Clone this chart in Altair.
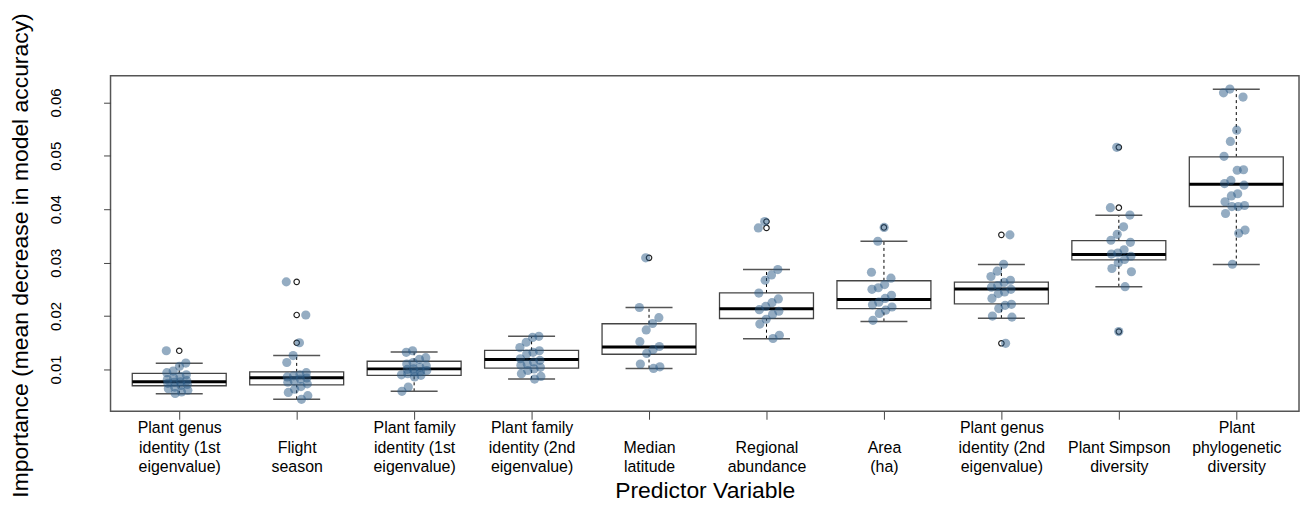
import json
import altair as alt
import pandas as pd

# ---------------- data ----------------
categories = [
    "Plant genus\nidentity (1st\neigenvalue)",
    " \nFlight\nseason",
    "Plant family\nidentity (1st\neigenvalue)",
    "Plant family\nidentity (2nd\neigenvalue)",
    " \nMedian\nlatitude",
    " \nRegional\nabundance",
    " \nArea\n(ha)",
    "Plant genus\nidentity (2nd\neigenvalue)",
    " \nPlant Simpson\ndiversity",
    "Plant\nphylogenetic\ndiversity",
]

# box statistics (whisker low, lower hinge, median, upper hinge, whisker high)
box_lo = [0.00546, 0.00442, 0.00591, 0.0082, 0.01019, 0.01577, 0.0190, 0.0196, 0.0255, 0.02965]
box_q1 = [0.00695, 0.00713, 0.00888, 0.01024, 0.01285, 0.01954, 0.02140, 0.02228, 0.03052, 0.04051]
box_med = [0.00769, 0.00844, 0.01011, 0.01186, 0.01421, 0.02135, 0.02308, 0.02507, 0.03151, 0.04466]
box_q3 = [0.00926, 0.00955, 0.01154, 0.01359, 0.01856, 0.02433, 0.02661, 0.02637, 0.03411, 0.04981]
box_hi = [0.01117, 0.0126, 0.01327, 0.0162, 0.02159, 0.02872, 0.0340, 0.02965, 0.03889, 0.06247]

# outliers drawn as open circles
out_idx = [1, 2, 2, 2, 5, 6, 6, 7, 8, 8, 9, 9, 9]
out_val = [0.0135, 0.0264, 0.0202, 0.0150, 0.0309, 0.0377, 0.0365, 0.0366,
           0.0352, 0.0149, 0.0516, 0.0403, 0.0171]

# individual importance values (jittered points)
pts_1 = [0.0135, 0.0112, 0.0106, 0.0097, 0.0094, 0.0090, 0.0087, 0.0084, 0.0081, 0.0079,
         0.0077, 0.0076, 0.0074, 0.0072, 0.0070, 0.0067, 0.0064, 0.0061, 0.0058, 0.0055]
pts_2 = [0.0264, 0.0202, 0.0150, 0.0126, 0.0113, 0.0094, 0.0090, 0.0088, 0.0086, 0.0084,
         0.0082, 0.0079, 0.0076, 0.0073, 0.0068, 0.0063, 0.0057, 0.0051, 0.0044]
pts_3 = [0.0135, 0.0132, 0.0122, 0.0119, 0.0113, 0.0110, 0.0107, 0.0104, 0.0101, 0.0100,
         0.0098, 0.0096, 0.0095, 0.0092, 0.0090, 0.0089, 0.0086, 0.0067, 0.0059]
pts_4 = [0.0162, 0.0160, 0.0151, 0.0141, 0.0135, 0.0132, 0.0129, 0.0120, 0.0117, 0.0114,
         0.0110, 0.0108, 0.0104, 0.0101, 0.0098, 0.0092, 0.0087, 0.0082]
pts_5 = [0.0309, 0.0216, 0.0197, 0.0186, 0.0174, 0.0152, 0.0143, 0.0137, 0.0130, 0.0110,
         0.0105, 0.0102]
pts_6 = [0.0377, 0.0365, 0.0287, 0.0277, 0.0267, 0.0243, 0.0232, 0.0225, 0.0218, 0.0212,
         0.0209, 0.0203, 0.0194, 0.0185, 0.0164, 0.0158]
pts_7 = [0.0366, 0.0340, 0.0282, 0.0271, 0.0259, 0.0253, 0.0250, 0.0239, 0.0233, 0.0226,
         0.0221, 0.0217, 0.0211, 0.0205, 0.0192]
pts_8 = [0.0352, 0.0297, 0.0284, 0.0274, 0.0267, 0.0263, 0.0257, 0.0254, 0.0250, 0.0245,
         0.0242, 0.0233, 0.0222, 0.0220, 0.0214, 0.0200, 0.0198, 0.0149]
pts_9 = [0.0516, 0.0403, 0.0389, 0.0367, 0.0353, 0.0342, 0.0338, 0.0324, 0.0318, 0.0316,
         0.0312, 0.0306, 0.0300, 0.0289, 0.0283, 0.0255, 0.0171]
pts_10 = [0.0625, 0.0618, 0.0610, 0.0548, 0.0527, 0.0499, 0.0474, 0.0473, 0.0454, 0.0448,
          0.0445, 0.0429, 0.0425, 0.0414, 0.0407, 0.0405, 0.0405, 0.0392, 0.0361, 0.0355,
          0.0297]

y_ticks = [0.01, 0.02, 0.03, 0.04, 0.05, 0.06]

# ---------------- tables ----------------
stats = pd.DataFrame({
    "idx": list(range(1, 11)),
    "lo": box_lo, "q1": box_q1, "med": box_med, "q3": box_q3, "hi": box_hi,
})
all_pts = [pts_1, pts_2, pts_3, pts_4, pts_5, pts_6, pts_7, pts_8, pts_9, pts_10]
rows = []
for k, vals in enumerate(all_pts):
    for v in vals:
        rows.append({"idx": k + 1, "value": v, "i": len(rows)})
points = pd.DataFrame(rows)
outs = pd.DataFrame({"idx": out_idx, "value": out_val})

FONT = "Liberation Sans"
label_arr = json.dumps([c.replace("\n", "|") for c in categories])

xscale = alt.Scale(domain=[0.415, 10.534], nice=False, zero=False)
yscale = alt.Scale(domain=[0.00217, 0.06498], nice=False, zero=False)

xaxis = alt.Axis(
    values=list(range(1, 11)),
    labelExpr=f"split({label_arr}[datum.value - 1], '|')",
    title="Predictor Variable",
    grid=False, domain=False, tickSize=8, tickColor="#444", tickWidth=1,
    labelFontSize=16, labelLineHeight=20, labelPadding=0, labelAngle=0,
    labelOverlap=False, labelFlush=False, labelBound=False,
    titleFontSize=23, titlePadding=5,
)
yaxis = alt.Axis(
    values=y_ticks, format=".2f",
    title="Importance (mean decrease in model accuracy)",
    grid=False, domain=False, tickSize=7, tickColor="#444", tickWidth=1,
    labelAngle=270, labelAlign="center", labelBaseline="bottom",
    labelFontSize=15, labelPadding=40, labelOverlap=False, labelFlush=False,
    titleFontSize=23, titlePadding=16, titleY=180,
)


def X(f):
    return alt.X(f, type="quantitative", scale=xscale, axis=xaxis)


def Y(f):
    return alt.Y(f, type="quantitative", scale=yscale, axis=yaxis)


base = alt.Chart(stats).transform_calculate(
    xl="datum.idx - 0.4", xr="datum.idx + 0.4",
    sl="datum.idx - 0.2", sr="datum.idx + 0.2",
)

whisk_lo = base.mark_rule(color="black", strokeWidth=1, strokeDash=[3, 3]).encode(
    x=X("idx"), y=Y("lo"), y2="q1")
whisk_hi = base.mark_rule(color="black", strokeWidth=1, strokeDash=[3, 3]).encode(
    x=X("idx"), y=Y("q3"), y2="hi")
staple_lo = base.mark_rule(color="#555", strokeWidth=1.5).encode(
    x=X("sl"), x2="sr", y=Y("lo"))
staple_hi = base.mark_rule(color="#555", strokeWidth=1.5).encode(
    x=X("sl"), x2="sr", y=Y("hi"))
box = base.mark_rect(fill="white", stroke="#444", strokeWidth=1.3).encode(
    x=X("xl"), x2="xr", y=Y("q1"), y2="q3")
median = base.mark_rule(color="black", strokeWidth=3).encode(
    x=X("xl"), x2="xr", y=Y("med"))

outliers = alt.Chart(outs).mark_point(
    shape="circle", filled=False, color="#222", size=30, strokeWidth=1.2, opacity=1
).encode(x=X("idx"), y=Y("value"))

dots = alt.Chart(points).transform_calculate(
    xj="datum.idx + ((datum.i * 0.7548776662) % 1 - 0.5) * 0.22"
).mark_circle(size=85, color="#2a5a85", opacity=0.5).encode(
    x=X("xj"), y=Y("value"))

chart = alt.layer(
    whisk_lo, whisk_hi, staple_lo, staple_hi, box, median, outliers, dots
).properties(
    width=1194, height=337,
    padding={"left": 103, "top": 67, "right": 2, "bottom": 90},
    autosize="none",
).configure_view(
    stroke="#555", strokeWidth=1.5
).configure_axis(
    labelFont=FONT, titleFont=FONT, labelColor="black", titleColor="black",
    titleFontWeight="normal",
)

chart.save("out.html", embed_options={"renderer": "svg", "actions": False})
